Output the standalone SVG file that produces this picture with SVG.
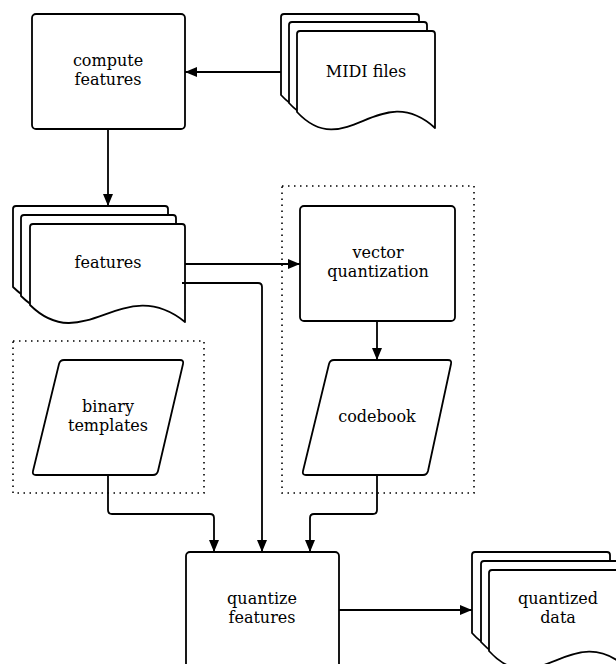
<svg xmlns="http://www.w3.org/2000/svg" width="616" height="664" viewBox="0 0 616 664">
<style>
.s{fill:#fff;stroke:#000;stroke-width:1.8;stroke-linejoin:round}
.grp{fill:none;stroke:#000;stroke-width:1.6;stroke-dasharray:1.5 4.5}
.c{fill:none;stroke:#000;stroke-width:1.8}
text{font-family:"DejaVu Serif","Liberation Serif",serif;font-size:16px;text-anchor:middle;fill:#000}
</style>
<defs>
<marker id="a" markerWidth="13" markerHeight="10" refX="12" refY="5" orient="auto" markerUnits="userSpaceOnUse">
<path d="M0,0 L12,5 L0,10 Z" fill="#000"/>
</marker>
</defs>
<rect class="grp" x="282" y="186" width="192" height="307"/>
<rect class="grp" x="13" y="341" width="191" height="152"/>
<g id="compute">
<rect class="s" x="32" y="14" width="153" height="115" rx="4"/>
<text x="108" y="66">compute</text>
<text x="108" y="85">features</text>
</g>
<g id="midi">
<path class="s" d="M281,95 L281,17 Q281,14 284,14 L416,14 Q419,14 419,17 L419,111 C363.8,61 329.3,147 281,95 Z"/>
<path class="s" d="M289,103 L289,25 Q289,22 292,22 L424,22 Q427,22 427,25 L427,119 C371.8,69 337.3,155 289,103 Z"/>
<path class="s" d="M297,112 L297,34 Q297,31 300,31 L432,31 Q435,31 435,34 L435,128 C379.8,78 345.3,164 297,112 Z"/>
<text x="366" y="77">MIDI files</text>
</g>
<g id="features">
<path class="s" d="M13,287 L13,209 Q13,206 16,206 L165,206 Q168,206 168,209 L168,304 C106,254 67,340 13,287 Z"/>
<path class="s" d="M21,296 L21,218 Q21,215 24,215 L173,215 Q176,215 176,218 L176,313 C114,263 75,349 21,296 Z"/>
<path class="s" d="M30,305 L30,227 Q30,224 33,224 L182,224 Q185,224 185,227 L185,322 C123,272 84,358 30,305 Z"/>
<text x="108" y="268">features</text>
</g>
<g id="vq">
<rect class="s" x="300" y="206" width="155" height="115" rx="4"/>
<text x="378" y="258">vector</text>
<text x="378" y="277">quantization</text>
</g>
<g id="codebook">
<path class="s" d="M334,360 L448,360 Q452,360 451,364 L428,471 Q427,475 423,475 L306,475 Q302,475 303,471 L329,364 Q330,360 334,360 Z"/>
<text x="377" y="422">codebook</text>
</g>
<g id="binary">
<path class="s" d="M64,360 L180,360 Q184,360 183,364 L158,471 Q157,475 153,475 L36,475 Q32,475 33,471 L59,364 Q60,360 64,360 Z"/>
<text x="108" y="412">binary</text>
<text x="108" y="431">templates</text>
</g>
<g id="quantize">
<rect class="s" x="186" y="552" width="153" height="130" rx="4"/>
<text x="262" y="604">quantize</text>
<text x="262" y="623">features</text>
</g>
<g id="qdata">
<path class="s" d="M472,633 L472,555 Q472,552 475,552 L607,552 Q610,552 610,555 L610,650 C554.8,600 520.3,686 472,633 Z"/>
<path class="s" d="M481,642 L481,564 Q481,561 484,561 L616,561 Q619,561 619,564 L619,659 C563.8,609 529.3,695 481,642 Z"/>
<path class="s" d="M489,651 L489,573 Q489,570 492,570 L624,570 Q627,570 627,573 L627,668 C571.8,618 537.3,704 489,651 Z"/>
<text x="558" y="604">quantized</text>
<text x="558" y="623">data</text>
</g>
<g id="connectors">
<path class="c" d="M281,72 L185,72" marker-end="url(#a)"/>
<path class="c" d="M108,129 L108,206" marker-end="url(#a)"/>
<path class="c" d="M185,264 L300,264" marker-end="url(#a)"/>
<path class="c" d="M182,283 L258,283 Q262,283 262,287 L262,552" marker-end="url(#a)"/>
<path class="c" d="M377,321 L377,360" marker-end="url(#a)"/>
<path class="c" d="M108,475 L108,510 Q108,514 112,514 L210,514 Q214,514 214,518 L214,552" marker-end="url(#a)"/>
<path class="c" d="M377,475 L377,510 Q377,514 373,514 L314,514 Q310,514 310,518 L310,552" marker-end="url(#a)"/>
<path class="c" d="M339,610 L472,610" marker-end="url(#a)"/>
</g>
</svg>
